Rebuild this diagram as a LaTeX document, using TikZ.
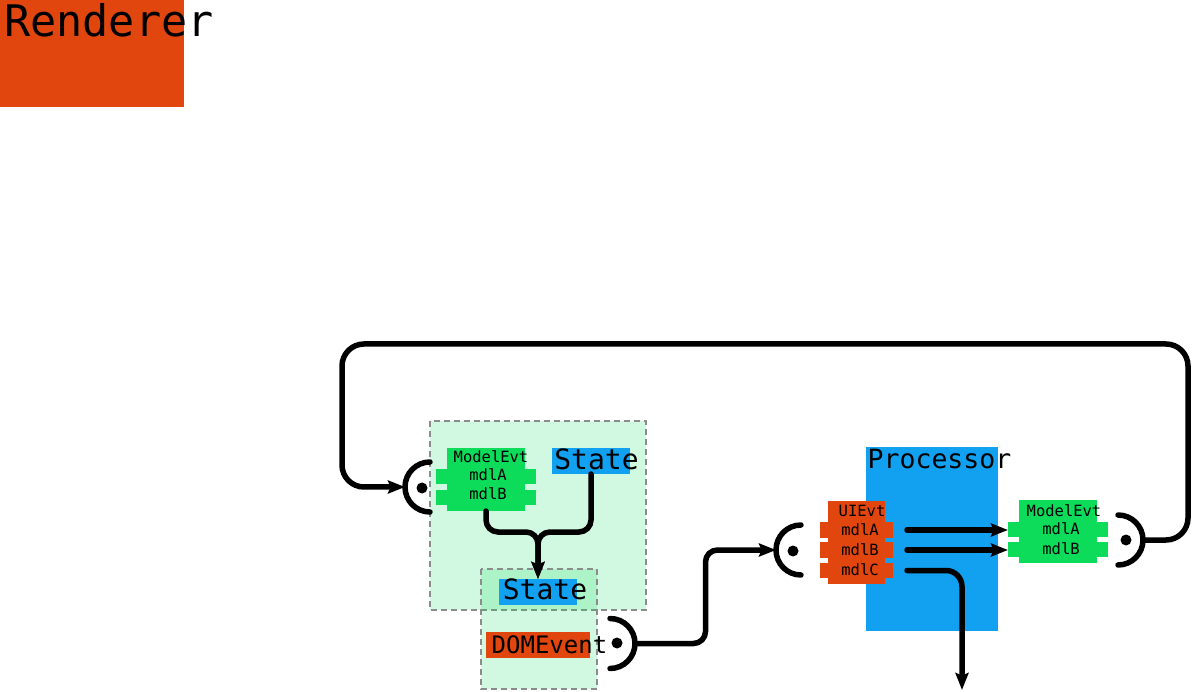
\documentclass[tikz,border=0pt]{standalone}
\usepackage{fontspec}
\setmonofont{DejaVu Sans Mono}
\usetikzlibrary{arrows.meta,calc}
\definecolor{rorange}{RGB}{224,70,14}
\definecolor{rblue}{RGB}{18,160,240}
\definecolor{rgreen}{RGB}{12,220,90}
\definecolor{dashgray}{RGB}{140,140,140}

% opening and closing port brackets with their dot
\newcommand\portL[2]{%
  \draw[plain] ($(#1)+(0,-25)$) .. controls +(-13.8,0) and +(0,-13.8) .. ($(#1)+(-25,0)$)
    .. controls +(0,13.8) and +(-13.8,0) .. ($(#1)+(0,25)$);
  \fill (#2) circle[radius=5.5pt];}
\newcommand\portR[2]{%
  \draw[plain] ($(#1)+(0,-25)$) .. controls +(13.8,0) and +(0,-13.8) .. ($(#1)+(25,0)$)
    .. controls +(0,13.8) and +(13.8,0) .. ($(#1)+(0,25)$);
  \fill (#2) circle[radius=5.5pt];}

\begin{document}
\begin{tikzpicture}[x=1pt,y=-1pt,
  plain/.style={line width=5.5pt, line cap=round},
  wire/.style={plain, -{Stealth[length=17pt,width=13pt,inset=2.5pt]}},
  region/.style={draw=dashgray, line width=2.5pt, dash pattern=on 6pt off 4pt,
    fill=rgreen, fill opacity=0.19},
  blk/.style={inner sep=0pt, outer sep=0pt, anchor=north west},
  txt/.style={font=\ttfamily\fontsize{#1}{#1}\selectfont, inner sep=0pt, anchor=base},
  small/.style={txt=15.5},
]
\useasboundingbox (0,0) rectangle (1200,692);

% title block
\node[blk, fill=rorange, minimum width=184pt, minimum height=107pt] (rend) at (0,0) {};
\node[txt=43.5] (rendt) at (109,37) {Renderer};

% dashed regions
\draw[region] (430,421) rectangle (646,610);
\draw[region] (481,569) rectangle (597,689);

% ModelEvt block (left)
\node[blk, fill=rgreen, minimum width=78pt, minimum height=63pt] (mev1) at (447,448) {};
\node[blk, fill=rgreen, minimum width=100pt, minimum height=15pt] (m1A) at (436,469) {};
\node[blk, fill=rgreen, minimum width=100pt, minimum height=15pt] (m1B) at (436,490) {};
\node[small] (m1t) at (491,463) {ModelEvt};
\node[small] (m1At) at (488,481) {mdlA};
\node[small] (m1Bt) at (488,500) {mdlB};

% State inputs and output
\node[blk, fill=rblue, minimum width=78pt, minimum height=26pt] (st1) at (552,448) {};
\node[txt=28] (st1t) at (596.5,470) {State};
\node[blk, fill=rblue, minimum width=78pt, minimum height=26pt] (st2) at (499,579) {};
\node[txt=28] (st2t) at (545,599) {State};
\node[blk, fill=rorange, minimum width=104pt, minimum height=26pt] (dom) at (486,632) {};
\node[txt=24] (domt) at (549.5,653) {DOMEvent};

% Processor
\node[blk, fill=rblue, minimum width=132pt, minimum height=184pt] (proc) at (866,447) {};
\node[txt=26.5] (proct) at (939.5,469) {Processor};

% UIEvt block
\node[blk, fill=rorange, minimum width=57pt, minimum height=83pt] (ui) at (828,501) {};
\node[blk, fill=rorange, minimum width=73pt, minimum height=16pt] (uA) at (820,522) {};
\node[blk, fill=rorange, minimum width=73pt, minimum height=16pt] (uB) at (820,542) {};
\node[blk, fill=rorange, minimum width=73pt, minimum height=15pt] (uC) at (820,563) {};
\node[small] (uit) at (862,516) {UIEvt};
\node[small] (uAt) at (860,535) {mdlA};
\node[small] (uBt) at (860,555) {mdlB};
\node[small] (uCt) at (860,575) {mdlC};

% ModelEvt block (right)
\node[blk, fill=rgreen, minimum width=78pt, minimum height=63pt] (mev2) at (1019,500) {};
\node[blk, fill=rgreen, minimum width=100pt, minimum height=15pt] (m2A) at (1008,522) {};
\node[blk, fill=rgreen, minimum width=100pt, minimum height=15pt] (m2B) at (1008,542) {};
\node[small] (m2t) at (1064,516) {ModelEvt};
\node[small] (m2At) at (1061,534) {mdlA};
\node[small] (m2Bt) at (1061,554) {mdlB};

% ports
\coordinate (lb1c) at (430,487);  \coordinate (lb1d) at (422,488);
\coordinate (lb2c) at (801,550);  \coordinate (lb2d) at (793,551);
\coordinate (rb1c) at (610,643.5);\coordinate (rb1d) at (617,643);
\coordinate (rb2c) at (1118,540); \coordinate (rb2d) at (1126,540);
\coordinate (lb1) at ($(lb1c)+(-25,0)$);
\coordinate (lb2) at ($(lb2c)+(-25,0)$);
\coordinate (rb1) at ($(rb1c)+(25,0)$);
\coordinate (rb2) at ($(rb2c)+(25,0)$);
\portL{lb1c}{lb1d}
\portL{lb2c}{lb2d}
\portR{rb1c}{rb1d}
\portR{rb2c}{rb2d}

% merge of ModelEvt and State into State
\coordinate (fork) at (538,532);
\draw[wire, rounded corners=12pt] (mev1.south) |- (fork) -- (st2.north);
\draw[wire, rounded corners=12pt] (st1.south) |- (fork) -- (st2.north);

% DOMEvent to Processor
\draw[wire, rounded corners=12pt] (rb1) -| ($(rb1)!0.5!(lb2)$) |- (lb2);

% Processor outputs
\draw[wire] ([xshift=14pt]uA.east) -- (uA.east -| m2A.west);
\draw[wire] ([xshift=14pt]uB.east) -- (uB.east -| m2B.west);
\coordinate (sink) at (962,690);
\draw[wire, rounded corners=16pt] ([xshift=14pt]uC.east) -| (sink);

% feedback loop
\coordinate (ne) at (1188,344);
\coordinate (nw) at (342,344);
\draw[wire, rounded corners=22pt] (rb2) -| (ne) -- (nw) |- (lb1);
\end{tikzpicture}
\end{document}
